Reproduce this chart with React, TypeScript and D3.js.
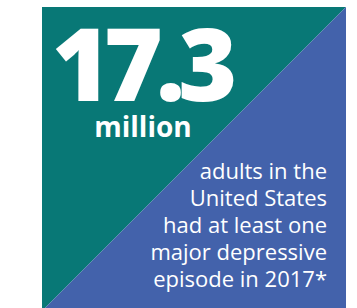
import * as d3 from "d3";
import { useEffect, useRef } from "react";

// figure content
const headline = ["17.3"];
const unitLabel = ["million"];
const descLines = [
  "adults in the",
  "United States",
  "had at least one",
  "major depressive",
  "episode in 2017*",
];
const panelColors = ["#087876", "#4362ab"];

export default function App() {
  const ref = useRef<SVGSVGElement>(null);

  useEffect(() => {
    if (!ref.current) return;
    const svg = d3.select(ref.current);
    svg.selectAll("*").remove();

    const width = 357,
      height = 308;
    svg.attr("width", width).attr("height", height);

    // square panel coordinates
    const x = d3.scaleLinear().domain([0, 1]).range([42, 346]);
    const y = d3.scaleLinear().domain([0, 1]).range([7, 311]);

    // upper-left triangle
    svg
      .append("path")
      .attr("d", `M${x(0)},${y(0)}L${x(1)},${y(0)}L${x(0)},${y(1)}Z`)
      .attr("fill", panelColors[0]);

    // lower-right triangle
    svg
      .append("path")
      .attr("d", `M${x(1)},${y(0)}L${x(1)},${y(1)}L${x(0)},${y(1)}Z`)
      .attr("fill", panelColors[1]);

    const font = "'Open Sans', 'Noto Sans', sans-serif";

    svg
      .selectAll("text.big")
      .data(headline)
      .enter()
      .append("text")
      .attr("class", "big")
      .attr("x", 141)
      .attr("y", 101)
      .attr("text-anchor", "middle")
      .attr("font-family", font)
      .attr("font-weight", 800)
      .attr("font-size", "101px")
      .attr("letter-spacing", "-7px")
      .attr("fill", "#ffffff")
      .text((d) => d);

    svg
      .selectAll("text.unit")
      .data(unitLabel)
      .enter()
      .append("text")
      .attr("class", "unit")
      .attr("x", 143)
      .attr("y", 137)
      .attr("text-anchor", "middle")
      .attr("font-family", font)
      .attr("font-weight", 700)
      .attr("font-size", "28px")
      .attr("fill", "#ffffff")
      .text((d) => d);

    const lineY = d3
      .scalePoint<string>()
      .domain(descLines)
      .range([179, 287]);

    svg
      .selectAll("text.desc")
      .data(descLines)
      .enter()
      .append("text")
      .attr("class", "desc")
      .attr("x", 327)
      .attr("y", (d) => lineY(d) as number)
      .attr("text-anchor", "end")
      .attr("font-family", font)
      .attr("font-size", "22px")
      .attr("fill", "#ffffff")
      .text((d) => d);
  }, []);

  return (
    <svg
      ref={ref}
      style={{ position: "absolute", left: 0, top: 0, display: "block" }}
    />
  );
}
